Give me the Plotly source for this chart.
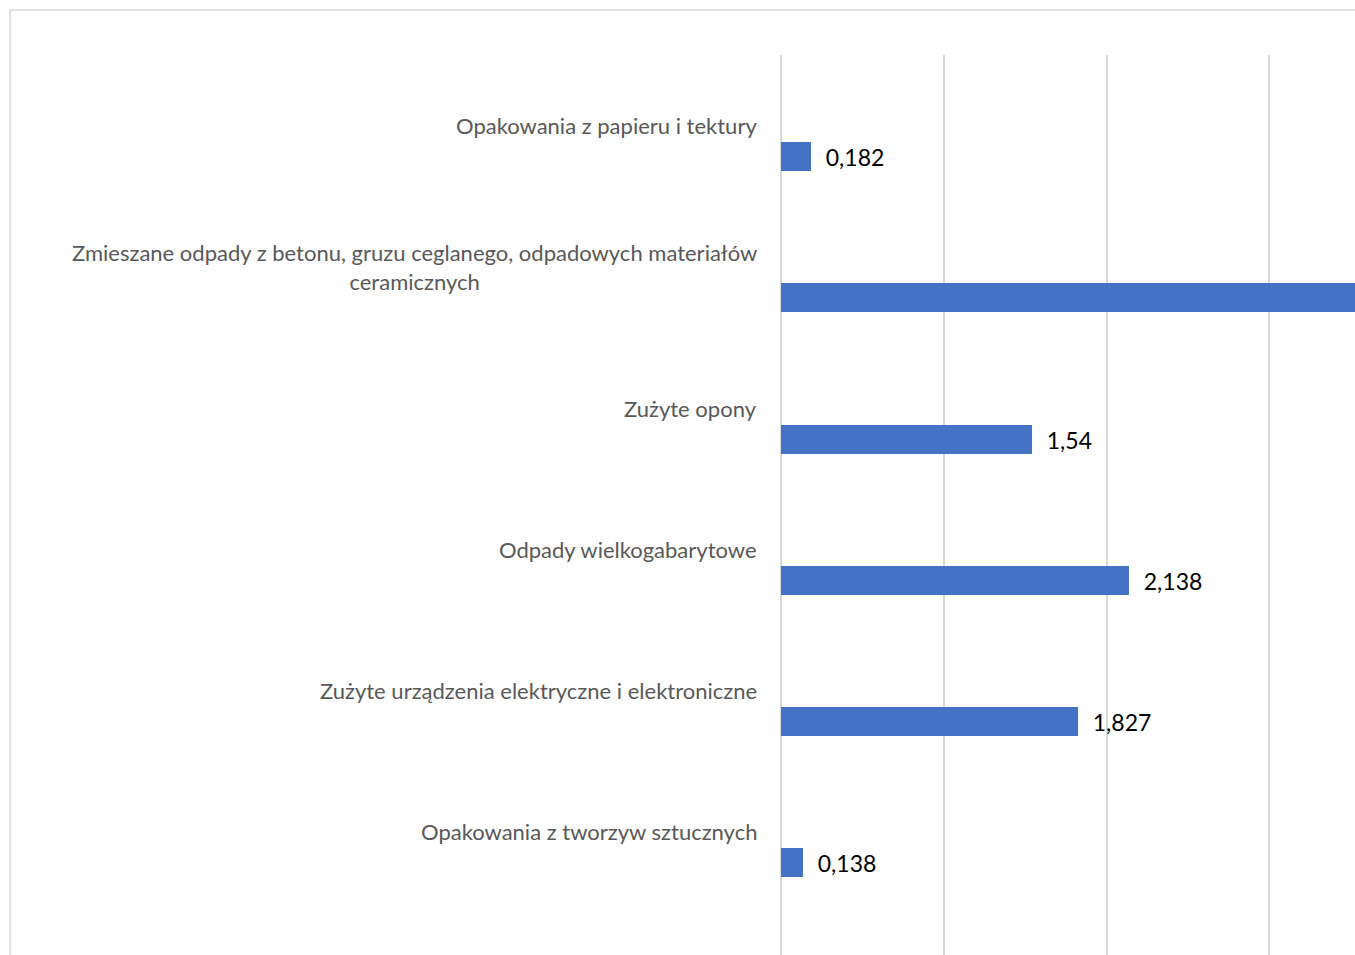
import plotly.graph_objects as go

categories = [
    "Opakowania z papieru i tektury",
    "Zmieszane odpady z betonu, gruzu ceglanego, odpadowych materiałów<br>ceramicznych",
    "Zużyte opony",
    "Odpady wielkogabarytowe",
    "Zużyte urządzenia elektryczne i elektroniczne",
    "Opakowania z tworzyw sztucznych",
]
values = [0.182, 4.6, 1.54, 2.138, 1.827, 0.138]

BAR_COLOR = "#4472C4"
GRID = "#D9D9D9"
FONT = "Lato"
X_MAX = 3.526

text_positions = ["outside" if v <= X_MAX else "none" for v in values]

fig = go.Figure()
fig.add_trace(go.Bar(
    y=categories,
    x=values,
    orientation="h",
    marker=dict(color=BAR_COLOR, line=dict(width=0)),
    offset=0.1175,
    width=0.205,
    texttemplate="\u00a0\u00a0%{x}",
    textposition=text_positions,
    textfont=dict(family=FONT, size=23, color="#000000"),
    cliponaxis=True,
    showlegend=False,
    hoverinfo="skip",
))

for c in categories:
    fig.add_annotation(
        xref="paper", yref="y", x=0, y=c, xshift=-22,
        xanchor="right", yanchor="middle", align="center",
        text=c, showarrow=False,
        font=dict(family=FONT, size=22, color="#595959"),
    )

fig.add_shape(
    type="rect", xref="paper", yref="paper",
    x0=-1.3432, x1=1.2, y0=-0.2, y1=1.05,
    line=dict(color=GRID, width=1.5), fillcolor="rgba(0,0,0,0)",
    layer="below",
)

fig.update_layout(
    width=1355, height=955,
    margin=dict(l=781, r=0, t=55, b=0),
    paper_bgcolor="white", plot_bgcolor="white",
    separators=", ",
    font=dict(family=FONT),
    bargap=0,
    xaxis=dict(
        range=[0, X_MAX], dtick=1, showgrid=True, gridcolor=GRID, gridwidth=1.5,
        zeroline=True, zerolinecolor=GRID, zerolinewidth=1.5,
        showticklabels=False, showline=False, fixedrange=True,
    ),
    yaxis=dict(
        type="category", categoryorder="array", categoryarray=categories,
        range=[5.874, -0.5], autorange=False, fixedrange=True,
        showticklabels=False, showgrid=False, zeroline=False, showline=False,
    ),
)

fig.write_html(
    "out.html",
    config={"displayModeBar": False},
    post_script="document.body.style.margin='0';document.body.style.overflow='hidden';",
)
